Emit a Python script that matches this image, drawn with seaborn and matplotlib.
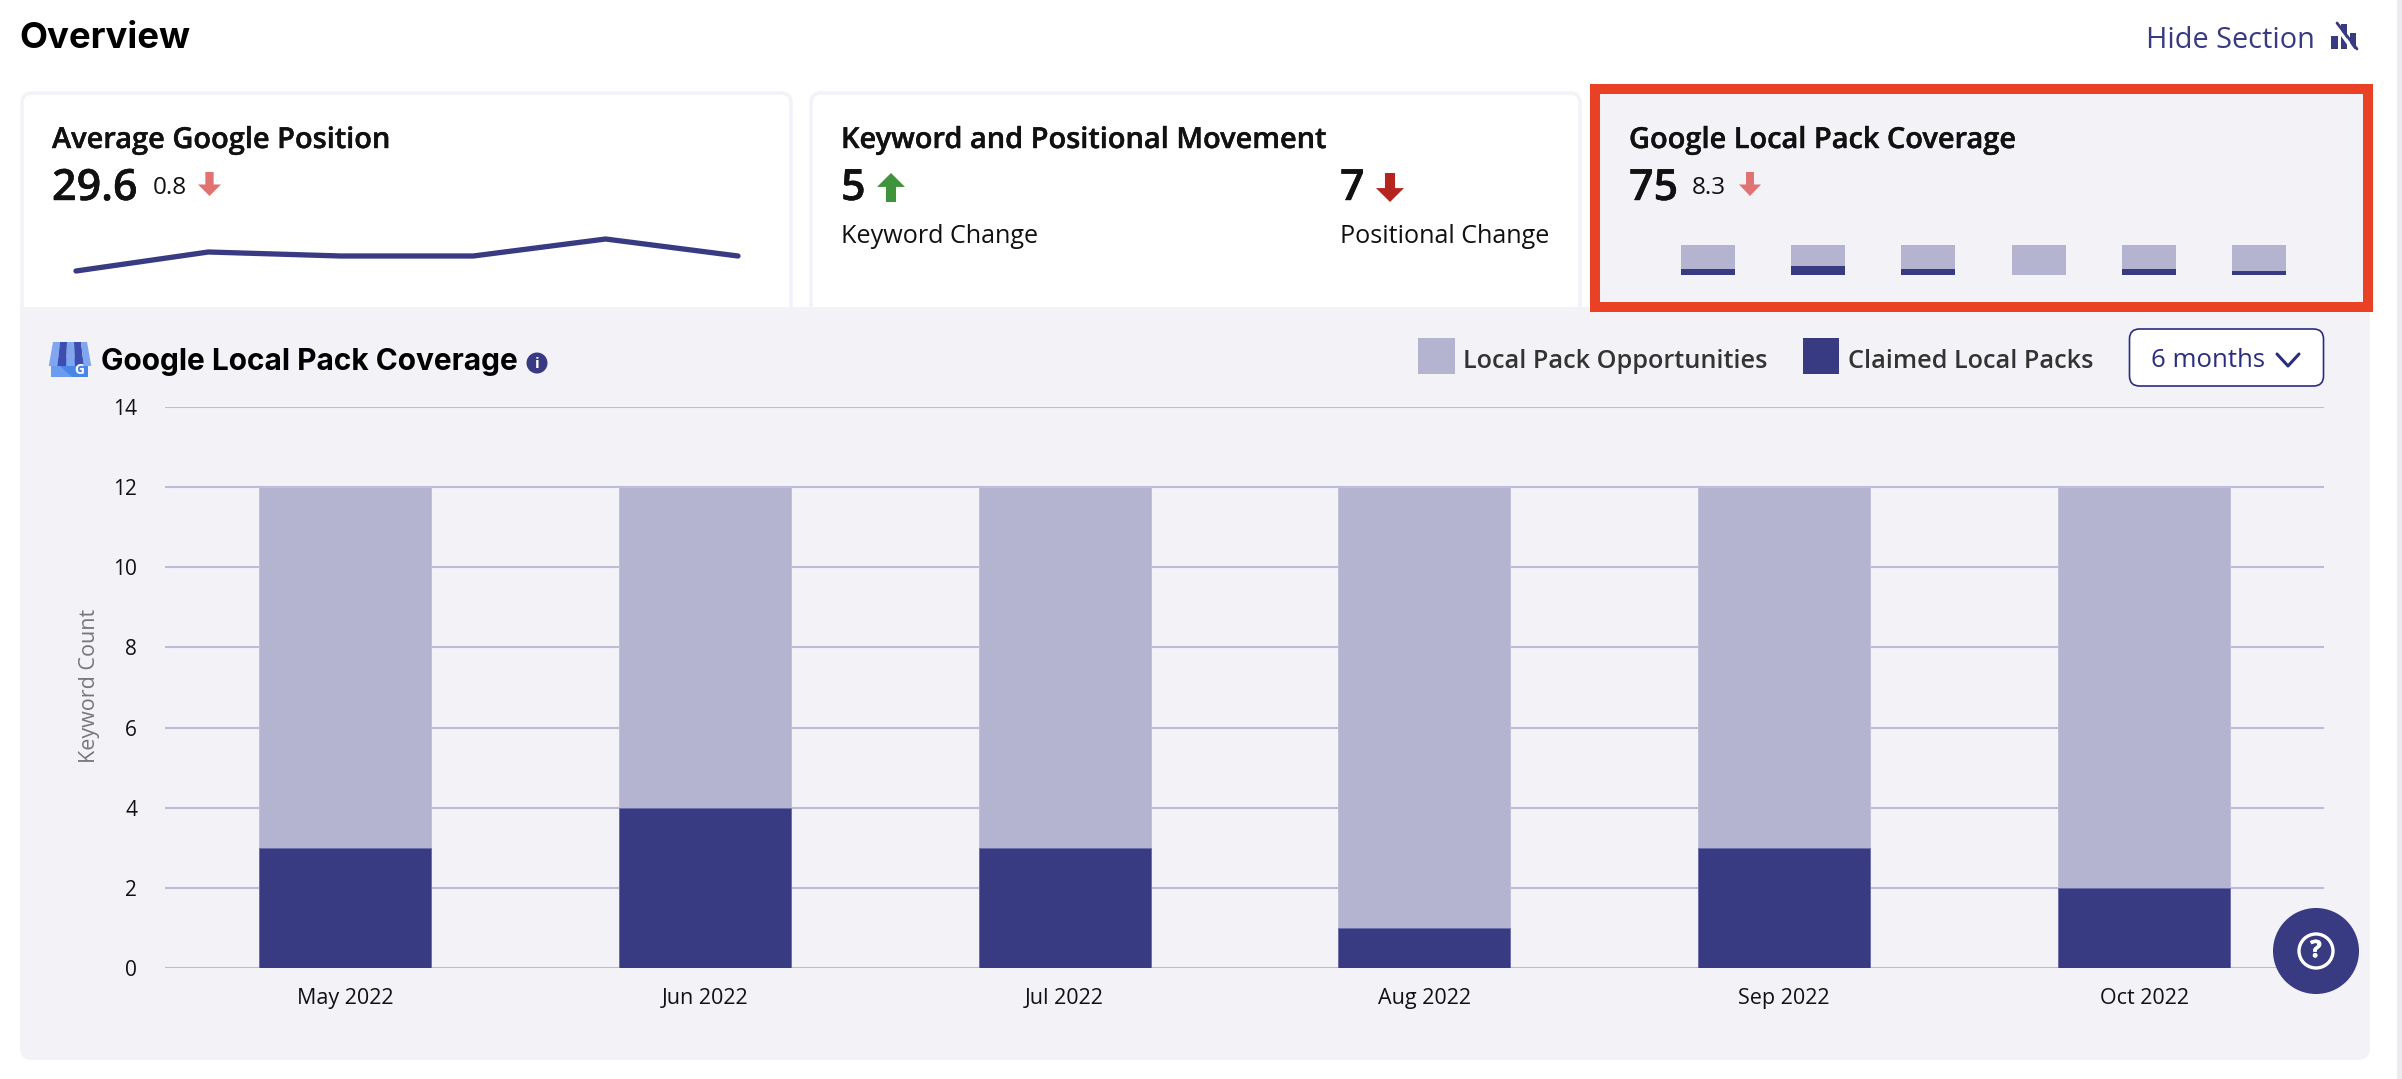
#!/usr/bin/env python3
"""Local pack coverage dashboard section, seaborn version"""

import pandas as pd
import matplotlib.pyplot as plt
import matplotlib.patheffects as pe
from matplotlib.patches import Rectangle, Polygon, Circle, FancyBboxPatch
import seaborn as sns

# data
months = ['May 2022', 'Jun 2022', 'Jul 2022', 'Aug 2022', 'Sep 2022', 'Oct 2022']
opportunities = [12, 12, 12, 12, 12, 12]
claimed = [3, 4, 3, 1, 3, 2]
y_ticks = [0, 2, 4, 6, 8, 10, 12, 14]

position_trend = [28.0, 29.9, 29.5, 29.5, 31.2, 29.5]
mini_opportunities = [12, 12, 12, 12, 12, 12]
mini_claimed = [2.3, 3.7, 2.3, 0, 2.3, 1.5]

NAVY = '#383a82'
LILAC = '#b4b4d0'
PANEL = '#f2f2f7'
GRID = '#bcbcda'
RED = '#e94026'
PINK = '#e07272'
INK = '#111111'

W, H = 2402, 1079

sns.set_theme(style="whitegrid")
plt.rcParams['font.family'] = ['Open Sans', 'DejaVu Sans']

fig = plt.figure(figsize=(W / 100, H / 100), dpi=100, facecolor='white')


def px_axes(x0, y0, x1, y1, zorder=1):
    """axes placed by pixel box, y measured from the top"""
    ax = fig.add_axes([x0 / W, 1 - y1 / H, (x1 - x0) / W, (y1 - y0) / H], zorder=zorder)
    ax.patch.set_alpha(0)
    return ax


def overlay(zorder):
    ax = px_axes(0, 0, W, H, zorder)
    ax.set_xlim(0, W)
    ax.set_ylim(H, 0)
    ax.axis('off')
    return ax


def arrow(ax, x0, x1, y0, y1, color, up=False):
    mid = (x0 + x1) / 2
    shaft = (x1 - x0) * 0.18
    neck = y0 + (y1 - y0) * 0.52
    pts = [(mid - shaft, y0), (mid + shaft, y0), (mid + shaft, neck), (x1, neck),
           (mid, y1), (x0, neck), (mid - shaft, neck)]
    if up:
        pts = [(x, y0 + y1 - y) for x, y in pts]
    ax.add_patch(Polygon(pts, closed=True, fc=color, ec='none'))


def card(ax, x0, x1, y0=91, y1=330):
    ax.add_patch(FancyBboxPatch((x0 + 12, y0 + 12), x1 - x0 - 24, y1 - y0 - 24,
                                boxstyle='round,pad=10,rounding_size=10',
                                fc='white', ec=PANEL, lw=2.5))


def heavier(text, width=0.3):
    text.set_path_effects([pe.withStroke(linewidth=width, foreground=text.get_color())])
    return text


# ---------------------------------------------------------------- page chrome
bg = overlay(0)
bg.add_patch(Rectangle((2397, 0), 5, H, fc='#ececf0', ec='none'))
card(bg, 20, 793)
card(bg, 809, 1582)
bg.add_patch(FancyBboxPatch((30, 340), 2330, 710, boxstyle='round,pad=10,rounding_size=12',
                            fc=PANEL, ec='none'))
bg.add_patch(Rectangle((20, 307), 2350, 40, fc=PANEL, ec='none'))
bg.add_patch(Rectangle((1595, 89), 773, 218, fc=PANEL, ec=RED, lw=7.2, joinstyle='miter'))

bg.text(19, 48, 'Overview', family=['Inter', 'DejaVu Sans'], fontsize=26.3, fontweight='bold',
        color='black', va='baseline')
bg.text(2146, 48, 'Hide Section', fontsize=20.8, color=NAVY, va='baseline')
# hide icon
bg.add_patch(Rectangle((2331, 36), 7, 13, fc=NAVY, ec='none'))
bg.add_patch(Rectangle((2341, 24), 6, 25, fc=NAVY, ec='none'))
bg.add_patch(Rectangle((2350, 33), 6, 16, fc=NAVY, ec='none'))
bg.plot([2333, 2353], [22, 50], color='white', lw=2.4)
bg.plot([2337, 2357], [23, 49], color=NAVY, lw=2.0)

# ---------------------------------------------------------------- KPI cards
for x, title in [(52, 'Average Google Position'), (841, 'Keyword and Positional Movement'),
                 (1629, 'Google Local Pack Coverage')]:
    heavier(bg.text(x, 148, title, fontsize=20.85, fontweight=600, color=INK, va='baseline'))

heavier(bg.text(52, 200, '29.6', fontsize=31, fontweight=600, color=INK, va='baseline'))
bg.text(153, 194, '0.8', fontsize=17.5, color=INK, va='baseline')
arrow(bg, 198, 221, 172, 196, PINK)

heavier(bg.text(841, 200, '5', fontsize=31, fontweight=600, color=INK, va='baseline'))
arrow(bg, 877, 905, 173, 202, '#3f943b', up=True)
heavier(bg.text(1340, 200, '7', fontsize=31, fontweight=600, color=INK, va='baseline'))
arrow(bg, 1376, 1404, 173, 202, '#b5251e')
bg.text(841, 243, 'Keyword Change', fontsize=18.1, color=INK, va='baseline')
bg.text(1340, 243, 'Positional Change', fontsize=18.1, color=INK, va='baseline')

heavier(bg.text(1629, 200, '75', fontsize=31, fontweight=600, color=INK, va='baseline'))
bg.text(1692, 194, '8.3', fontsize=17.5, color=INK, va='baseline')
arrow(bg, 1739, 1761, 172, 196, PINK)

# sparkline
spark = px_axes(76, 225, 738, 285, 2)
sns.lineplot(x=list(range(len(position_trend))), y=position_trend, ax=spark, color=NAVY,
             linewidth=3.8, solid_capstyle='round', clip_on=False)
spark.set_xlim(0, 5)
spark.set_ylim(26.6, 32.6)
spark.axis('off')

# mini stacked bars
mini = px_axes(1653, 240, 2314, 275, 2)
sns.barplot(x=months, y=mini_opportunities, ax=mini, color=LILAC, saturation=1, width=0.49, linewidth=0)
sns.barplot(x=months, y=mini_claimed, ax=mini, color=NAVY, saturation=1, width=0.49, linewidth=0)
mini.set_xlim(-0.5, 5.5)
mini.set_ylim(0, 35 / 30 * 12)
mini.axis('off')

# ---------------------------------------------------------------- main chart
ax = px_axes(165, 407, 2324, 968, 2)
df = pd.DataFrame({'month': months, 'opportunities': opportunities, 'claimed': claimed})
sns.barplot(data=df, x='month', y='opportunities', ax=ax, color=LILAC, saturation=1, width=0.478,
            zorder=3, linewidth=0.7, edgecolor='#c0c0da')
sns.barplot(data=df, x='month', y='claimed', ax=ax, color=NAVY, saturation=1, width=0.478,
            zorder=4, linewidth=0.7, edgecolor='#6f70ab')
ax.set_xlim(-0.5, 5.5)
ax.set_ylim(0, 14)
ax.set_yticks(y_ticks)
ax.grid(False)
ax.yaxis.grid(True, color=GRID, linewidth=1.5)
ax.set_axisbelow(True)
sns.despine(ax=ax, left=True, bottom=True)
ax.tick_params(axis='y', length=0, pad=20, labelsize=15, labelcolor=INK)
ax.tick_params(axis='x', length=0, pad=14.5, labelsize=15.5, labelcolor=INK)
ax.set_xlabel('')
ax.set_ylabel('')

# panel header
bg.text(101, 370, 'Google Local Pack Coverage', family=['Inter', 'DejaVu Sans'], fontsize=21.5,
        fontweight='bold', color='black', va='baseline')
bg.add_patch(Circle((537, 363), 10.5, fc=NAVY, ec='none'))
bg.text(537, 363.5, 'i', fontsize=11, fontweight='bold', color='white', ha='center', va='center')

# store icon
bg.add_patch(Rectangle((51, 358), 37, 19, fc='#4a86e8', ec='none'))
bg.add_patch(Polygon([(51, 358), (51, 377), (72, 377)], closed=True, fc='#6c9cf0', ec='none'))
stripe_edges = [(53, 60), (60, 67), (67, 74), (74, 81), (81, 87)]
for i, (a, b) in enumerate(stripe_edges):
    shade = '#7fa6ee' if i in (0, 2, 4) else '#3e4eb0'
    bg.add_patch(Polygon([(a, 342), (b, 342), (b + (b - 70) * 0.25, 366), (a + (a - 70) * 0.25, 366)],
                         closed=True, fc=shade, ec='none'))
bg.text(79, 370, 'G', fontsize=10, fontweight='bold', color='white', ha='center', va='center')

# legend
bg.add_patch(Rectangle((1418, 338), 37, 36, fc=LILAC, ec='none'))
bg.text(1463, 368, 'Local Pack Opportunities', fontsize=18.15, fontweight=600, color='#333333', va='baseline')
bg.add_patch(Rectangle((1803, 338), 36, 36, fc=NAVY, ec='none'))
bg.text(1848, 368, 'Claimed Local Packs', fontsize=18.15, fontweight=600, color='#333333', va='baseline')

# range dropdown
bg.add_patch(FancyBboxPatch((2139.5, 339), 174, 37, boxstyle='round,pad=10,rounding_size=10',
                            fc='white', ec='#2b2d7f', lw=1.2))
bg.text(2151, 367, '6 months', fontsize=18.5, color='#2b2d7f', va='baseline')
bg.plot([2277, 2288, 2299], [354, 366, 354], color='#2b2d7f', lw=2.2)

# axis title, same pixel box as the chart
bg.text(89, 686, 'Keyword Count', fontsize=15.5, color='#777777', rotation=90, ha='center', va='center')

# help button sits above the plot
top = overlay(5)
top.add_patch(Circle((2316, 951), 43, fc=NAVY, ec='none'))
top.add_patch(Circle((2316, 951), 17, fc='none', ec='white', lw=2.4))
heavier(top.text(2316, 951, '?', fontsize=17, fontweight='bold', color='white', ha='center', va='center'), 0.6)

plt.savefig('out.png', dpi=100)
